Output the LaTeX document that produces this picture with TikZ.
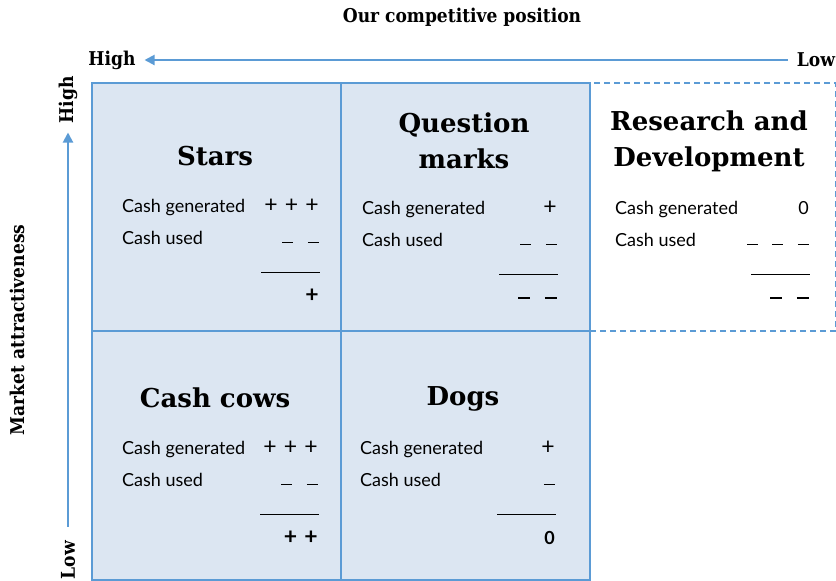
\documentclass[tikz,border=0pt]{standalone}
\usepackage{fontspec}
\setmainfont{Liberation Serif}
\newfontfamily\cellfont{Lato}
\newfontfamily\headfont{DejaVu Serif}
\newfontfamily\axisfont{DejaVu Serif Condensed}
\usepackage{tikz}
\usetikzlibrary{positioning,arrows.meta}
\usepackage{xcolor}
\definecolor{gridblue}{RGB}{91,155,213}
\definecolor{cellfill}{RGB}{220,230,242}
% one cash column: name, left x, right x, baseline y, generated, used, net
\newcommand{\cashsum}[7]{%
  \node[lbl] (#1gen) at (#2,#4) {Cash generated};
  \node[lbl] (#1use) at (#2,#4+32) {Cash used};
  \node[val] (#1genv) at (#3,#4) {#5};
  \node[val] (#1usev) at (#3,#4+32) {#6};
  \coordinate (#1ruleA) at (#3-58,#4+60);
  \coordinate (#1ruleB) at (#3+1,#4+60);
  \draw[thin] (#1ruleA) -- (#1ruleB);
  \node[val, font=\cellfont\bfseries\fontsize{18}{20}\selectfont] (#1net) at (#3,#4+90) {#7};
}
\newcommand{\gap}{\hspace{0.4em}}
\newcommand{\pl}{{\fontsize{23}{23}\selectfont\cellfont\mdseries +}}
\newcommand{\mi}{\rule[1pt]{11pt}{0.9pt}}
\newcommand{\bpl}{{\fontsize{23}{23}\selectfont\textbf{+}}}
\newcommand{\bmi}{\rule[5pt]{12pt}{1.6pt}}

\begin{document}
\begin{tikzpicture}[
  x=1pt, y=-1pt,
  cell/.style={draw=gridblue, line width=1.8pt, fill=cellfill, inner sep=0pt,
    minimum width=249pt, minimum height=248pt, anchor=north west},
  opencell/.style={cell, fill=white, line width=2.4pt, dash pattern=on 6pt off 4pt, minimum width=246pt},
  title/.style={font=\headfont\bfseries\fontsize{26}{36}\selectfont, align=center, inner sep=0pt},
  lbl/.style={font=\cellfont\fontsize{18}{20}\selectfont, anchor=base west, inner sep=0pt},
  val/.style={font=\cellfont\fontsize{18}{20}\selectfont, anchor=base east, inner sep=0pt},
  axis/.style={font=\axisfont\bfseries\fontsize{19}{22}\selectfont, inner sep=0pt},
  arr/.style={-{Triangle[length=10pt,width=10pt]}, draw=gridblue, line width=2pt}
]
\useasboundingbox (0,0) rectangle (836,581);

\node[opencell] (rnd) at (589,82) {};
\node[cell] (stars) at (91,82) {};
\node[cell] (qmarks) at (340,82) {};
\node[cell, minimum height=249pt] (cows) at (91,330) {};
\node[cell, minimum height=249pt] (dogs) at (340,330) {};

\node[title] (starsT) at (215,156) {Stars};
\node[title] (qmarksT) at (464,141) {Question\\marks};
\node[title] (rndT) at (709,141) {Research and\\Development};
\node[title] (cowsT) at (215,398) {Cash cows};
\node[title] (dogsT) at (463,399) {Dogs};

\cashsum{stars}{122}{319}{212}{\pl\gap\pl\gap\pl}{\mi\gap\gap\mi}{\bpl}
\cashsum{qmarks}{362}{557}{214}{\pl}{\mi\gap\gap\mi}{\bmi\gap\gap\bmi}
\cashsum{rnd}{615}{809}{214}{0}{\mi\gap\gap\mi\gap\gap\mi}{\bmi\gap\gap\bmi}
\cashsum{cows}{122}{318}{454}{\pl\gap\pl\gap\pl}{\mi\gap\gap\mi}{\bpl\gap\bpl}
\cashsum{dogs}{360}{555}{454}{\pl}{\mi}{0}

\node[axis] (posT) at (462,17) {Our competitive position};
\node[axis, outer sep=9pt] (posHigh) at (112,60) {High};
\node[axis, outer sep=9pt] (posLow) at (816,60) {Low};
\draw[arr] (posLow) -- (posHigh);

\node[axis, rotate=90] (mktT) at (17,330) {Market attractiveness};
\node[axis, rotate=90, outer sep=9pt] (mktHigh) at (68,100) {High};
\node[axis, rotate=90, outer sep=14pt] (mktLow) at (68,560) {Low};
\draw[arr] (mktLow) -- (mktHigh);

\end{tikzpicture}
\end{document}
